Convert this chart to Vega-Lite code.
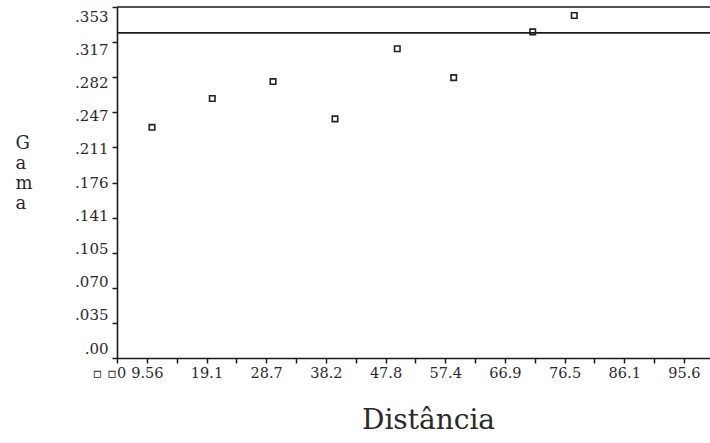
{
  "$schema": "https://vega.github.io/schema/vega-lite/v6.json",
  "width": 593,
  "height": 351,
  "autosize": {"type": "none"},
  "padding": {"left": 117, "top": 7, "right": 0, "bottom": 85},
  "background": "white",
  "config": {"view": {"stroke": null}, "font": "DejaVu Serif"},
  "datasets": {
    "semivariograma": [
      {"distancia": 10.39, "gama": 0.232},
      {"distancia": 20.05, "gama": 0.261},
      {"distancia": 29.78, "gama": 0.278},
      {"distancia": 39.71, "gama": 0.2405},
      {"distancia": 49.69, "gama": 0.311},
      {"distancia": 58.73, "gama": 0.282},
      {"distancia": 71.39, "gama": 0.328},
      {"distancia": 78.05, "gama": 0.3445}
    ],
    "linhas": [
      {"gama": 0.353},
      {"gama": 0.327}
    ]
  },
  "encoding": {
    "y": {
      "field": "gama",
      "type": "quantitative",
      "scale": {"domain": [0, 0.353], "nice": false, "zero": false},
      "axis": {
        "values": [0, 0.0353, 0.0706, 0.1059, 0.1412, 0.1765, 0.2118, 0.2471, 0.2824, 0.3177, 0.353],
        "labelExpr": "datum.value == 0 ? '.00' : replace(format(floor(datum.value*1000+0.001)/1000, '.3f'), '0.', '.')",
        "grid": false,
        "tickSize": 5,
        "tickWidth": 1.5,
        "tickColor": "#1a1a1a",
        "domainColor": "#1a1a1a",
        "domainWidth": 1.6,
        "labelPadding": 4,
        "labelFont": "DejaVu Serif",
        "labelFontSize": 15,
        "labelColor": "#2a2a2a",
        "labelOverlap": false,
        "labelFlush": false,
        "labelOffset": {"expr": "-10 + 19 * datum.value / 0.353"},
        "title": ["G", "a", "m", "a"],
        "titleAngle": 0,
        "titleFont": "DejaVu Serif",
        "titleFontSize": 18,
        "titleFontWeight": "normal",
        "titleColor": "#2a2a2a",
        "titleLineHeight": 20,
        "titleAlign": "left",
        "titleBaseline": "alphabetic",
        "titleX": -102,
        "titleY": 141
      }
    }
  },
  "layer": [
    {
      "data": {"name": "linhas"},
      "mark": {"type": "rule", "color": "#1a1a1a", "strokeWidth": 1.6},
      "encoding": {}
    },
    {
      "data": {"name": "semivariograma"},
      "mark": {"type": "point", "shape": "square", "filled": false, "size": 30, "strokeWidth": 1.6, "color": "#222222", "opacity": 1},
      "encoding": {
        "x": {
          "field": "distancia",
          "type": "quantitative",
          "scale": {"domain": [4.781, 99.8], "nice": false, "zero": false},
          "axis": {
            "values": [4.781, 9.562, 14.343, 19.124, 23.905, 28.686, 33.467, 38.248, 43.029, 47.81, 52.591, 57.372, 62.153, 66.934, 71.715, 76.496, 81.277, 86.058, 90.839, 95.62],
            "labelExpr": "datum.value < 5 ? '▫ ▫0' : (round(datum.value / 4.781) % 2 == 0 ? format(datum.value, '.3r') : '')",
            "grid": false,
            "tickSize": 5,
            "tickWidth": 1.5,
            "tickColor": "#1a1a1a",
            "domainColor": "#1a1a1a",
            "domainWidth": 1.6,
            "labelPadding": 3,
            "labelFont": "DejaVu Serif",
            "labelFontSize": 14.5,
            "labelColor": "#2a2a2a",
            "labelOverlap": false,
            "labelFlush": false,
            "labelOffset": {"expr": "datum.value < 5 ? -8 : 0"},
            "title": "Distância",
            "titleFont": "DejaVu Serif",
            "titleFontSize": 28,
            "titleFontWeight": "normal",
            "titleColor": "#2a2a2a",
            "titleAlign": "center",
            "titleBaseline": "alphabetic",
            "titleX": 311,
            "titleY": 70
          }
        }
      }
    }
  ]
}
